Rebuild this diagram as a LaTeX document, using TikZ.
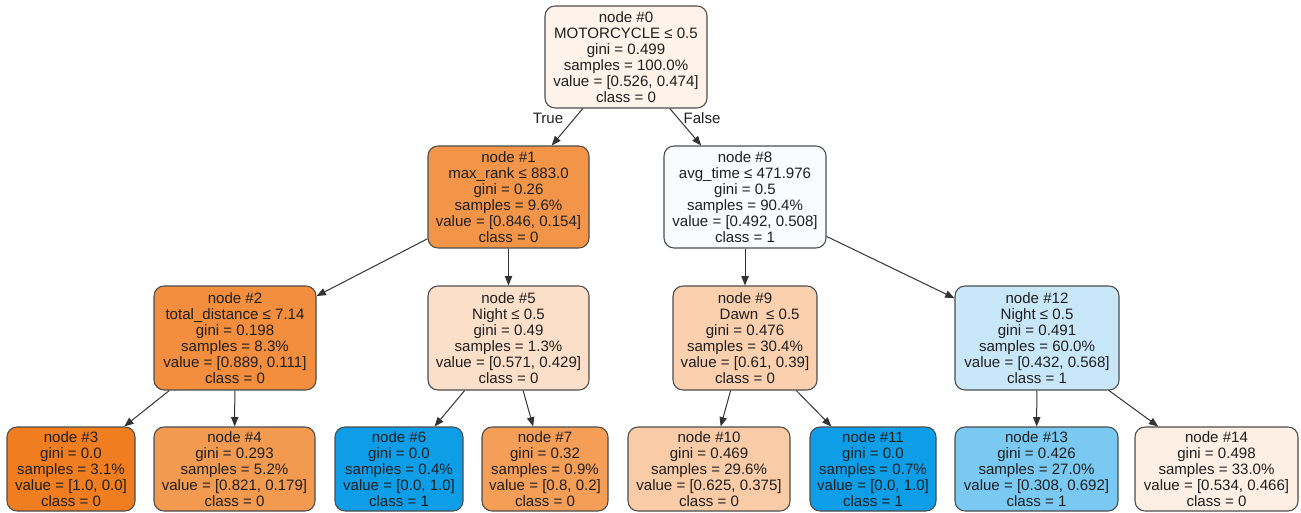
\documentclass[tikz,border=0pt]{standalone}
\usepackage{fontspec}
\setmainfont{Liberation Sans}
\usetikzlibrary{arrows.meta}

\definecolor{cnode0}{RGB}{254,242,233}
\definecolor{cnode1}{RGB}{243,149,73}
\definecolor{cnode2}{RGB}{242,142,61}
\definecolor{cnode3}{RGB}{240,126,33}
\definecolor{cnode4}{RGB}{243,154,81}
\definecolor{cnode5}{RGB}{251,223,200}
\definecolor{cnode6}{RGB}{14,158,232}
\definecolor{cnode7}{RGB}{244,158,88}
\definecolor{cnode8}{RGB}{248,252,254}
\definecolor{cnode9}{RGB}{250,208,175}
\definecolor{cnode10}{RGB}{249,203,166}
\definecolor{cnode11}{RGB}{14,158,232}
\definecolor{cnode12}{RGB}{200,232,250}
\definecolor{cnode13}{RGB}{121,201,242}
\definecolor{cnode14}{RGB}{253,239,227}
\definecolor{edgegray}{RGB}{51,51,51}

\begin{document}
\begin{tikzpicture}[x=0.75pt,y=-0.75pt,
every node/.style={font=\fontsize{11.3}{12}\selectfont,text=black!88},
split/.style={draw=black!70,line width=0.8pt,rounded corners=7.5pt,
  align=center,minimum height=76.5pt,inner sep=0pt},
leaf/.style={split,minimum height=63pt},
edge/.style={draw=edgegray,line width=0.75pt,-{Triangle[length=7pt,width=5.5pt]}},
branch/.style={inner sep=1pt}]
\useasboundingbox (0,0) rectangle (1301,513);

% root
\node [split,fill=cnode0,minimum width=121.5pt] (n0) at (626,57)
  {node \#0\\MOTORCYCLE ≤ 0.5\\gini = 0.499\\samples = 100.0\%\\value = [0.526, 0.474]\\class = 0};

% level 1
\node [split,fill=cnode1,minimum width=120.75pt] (n1) at (508.5,197)
  {node \#1\\max\_rank ≤ 883.0\\gini = 0.26\\samples = 9.6\%\\value = [0.846, 0.154]\\class = 0};
\node [split,fill=cnode8,minimum width=121.5pt] (n8) at (745,197)
  {node \#8\\avg\_time ≤ 471.976\\gini = 0.5\\samples = 90.4\%\\value = [0.492, 0.508]\\class = 1};

% level 2
\node [split,fill=cnode2,minimum width=121.5pt,minimum height=78pt] (n2) at (235,338)
  {node \#2\\total\_distance ≤ 7.14\\gini = 0.198\\samples = 8.3\%\\value = [0.889, 0.111]\\class = 0};
\node [split,fill=cnode5,minimum width=120.75pt,minimum height=78pt] (n5) at (508.5,338)
  {node \#5\\Night ≤ 0.5\\gini = 0.49\\samples = 1.3\%\\value = [0.571, 0.429]\\class = 0};
\node [split,fill=cnode9,minimum width=108pt,minimum height=78pt] (n9) at (745,338)
  {node \#9\\\hspace*{22pt}Dawn\hspace{6pt}≤ 0.5\\gini = 0.476\\samples = 30.4\%\\value = [0.61, 0.39]\\class = 0};
\node [split,fill=cnode12,minimum width=123pt,minimum height=78pt] (n12) at (1037,338)
  {node \#12\\Night ≤ 0.5\\gini = 0.491\\samples = 60.0\%\\value = [0.432, 0.568]\\class = 1};

% leaves
\node [leaf,fill=cnode3,minimum width=96pt] (n3) at (71,469)
  {node \#3\\gini = 0.0\\samples = 3.1\%\\value = [1.0, 0.0]\\class = 0};
\node [leaf,fill=cnode4,minimum width=120.75pt] (n4) at (234.5,469)
  {node \#4\\gini = 0.293\\samples = 5.2\%\\value = [0.821, 0.179]\\class = 0};
\node [leaf,fill=cnode6,minimum width=96pt] (n6) at (399,469)
  {node \#6\\gini = 0.0\\samples = 0.4\%\\value = [0.0, 1.0]\\class = 1};
\node [leaf,fill=cnode7,minimum width=94.5pt] (n7) at (545,469)
  {node \#7\\gini = 0.32\\samples = 0.9\%\\value = [0.8, 0.2]\\class = 0};
\node [leaf,fill=cnode10,minimum width=121.5pt] (n10) at (709,469)
  {node \#10\\gini = 0.469\\samples = 29.6\%\\value = [0.625, 0.375]\\class = 0};
\node [leaf,fill=cnode11,minimum width=94.5pt] (n11) at (873,469)
  {node \#11\\gini = 0.0\\samples = 0.7\%\\value = [0.0, 1.0]\\class = 1};
\node [leaf,fill=cnode13,minimum width=122.25pt] (n13) at (1036.5,469)
  {node \#13\\gini = 0.426\\samples = 27.0\%\\value = [0.308, 0.692]\\class = 1};
\node [leaf,fill=cnode14,minimum width=122.25pt] (n14) at (1216.5,469)
  {node \#14\\gini = 0.498\\samples = 33.0\%\\value = [0.534, 0.466]\\class = 0};

% edges
\draw [edge] (n0) -- (n1);
\draw [edge] (n0) -- (n8);
\draw [edge] (n1) -- (n2);
\draw [edge] (n1) -- (n5);
\draw [edge] (n2) -- (n3);
\draw [edge] (n2) -- (n4);
\draw [edge] (n5) -- (n6);
\draw [edge] (n5) -- (n7);
\draw [edge] (n8) -- (n9);
\draw [edge] (n8) -- (n12);
\draw [edge] (n9) -- (n10);
\draw [edge] (n9) -- (n11);
\draw [edge] (n12) -- (n13);
\draw [edge] (n12) -- (n14);

\node [branch] (ltrue) at (548,118) {True};
\node [branch] (lfalse) at (702,118) {False};
\end{tikzpicture}
\end{document}
